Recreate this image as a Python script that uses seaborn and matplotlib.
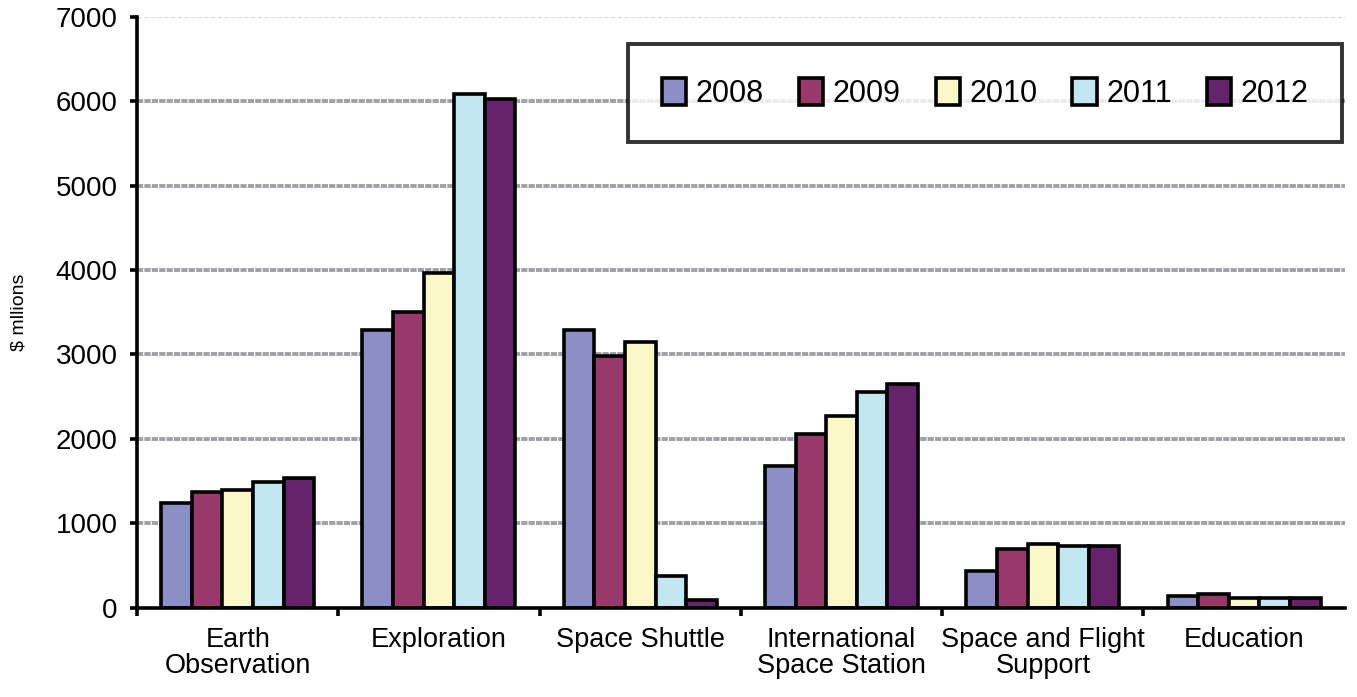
import pandas as pd
import matplotlib
matplotlib.use("Agg")
import matplotlib.pyplot as plt
from matplotlib.patches import Patch
import seaborn as sns

# Daten
categories = ["Earth\nObservation", "Exploration", "Space Shuttle",
              "International\nSpace Station", "Space and Flight\nSupport", "Education"]
years = ["2008", "2009", "2010", "2011", "2012"]
v2008 = [1237, 3290, 3290, 1680, 440, 140]
v2009 = [1370, 3500, 2980, 2060, 700, 165]
v2010 = [1400, 3970, 3150, 2270, 750, 110]
v2011 = [1490, 6080, 380, 2550, 730, 110]
v2012 = [1540, 6030, 95, 2650, 730, 110]
colors = ["#8B8FC5", "#99386B", "#FAF8C9", "#C2E7F0", "#66226A"]

rows = []
for yr, vals in zip(years, [v2008, v2009, v2010, v2011, v2012]):
    for c, v in zip(categories, vals):
        rows.append({"category": c, "year": yr, "value": v})
df = pd.DataFrame(rows)

sns.set_style("white")
plt.rcParams["font.family"] = ["Liberation Sans", "DejaVu Sans"]
for k in ["text.color", "axes.labelcolor", "xtick.color", "ytick.color"]:
    plt.rcParams[k] = "black"

fig = plt.figure(figsize=(13.57, 6.97), dpi=100)
ax = fig.add_axes([0.101, 0.128, 0.890, 0.848])

# Gitterlinien
for y in range(1000, 7000, 1000):
    ax.axhline(y, color="#A0A0A8", lw=2.8, ls=(0, (1.6, 0.3)), zorder=0)
ax.axhline(7000, color="#DADADA", lw=0.8, ls=(0, (4, 2)), zorder=0)

sns.barplot(data=df, x="category", y="value", hue="year", palette=colors,
            saturation=1, width=0.76, edgecolor="black", linewidth=2.6,
            ax=ax, zorder=2)

ax.set_xlim(-0.5, 5.5)
ax.set_ylim(0, 7000)
ax.set_yticks(range(0, 7001, 1000))
ax.set_xlabel("")
ax.set_ylabel("$ mllions", fontsize=14, labelpad=20)

for s in ["top", "right"]:
    ax.spines[s].set_visible(False)
for s in ["left", "bottom"]:
    ax.spines[s].set_linewidth(2.6)
    ax.spines[s].set_color("black")

ax.tick_params(axis="y", which="major", left=True, length=5, width=2.6,
               direction="out", labelsize=20, pad=9)
ax.tick_params(axis="x", which="major", length=0, labelsize=19.5, pad=14)
ax.set_xticks([i - 0.5 for i in range(6)], minor=True)
ax.tick_params(axis="x", which="minor", bottom=True, length=6, width=2.6,
               direction="out")
for lab in ax.get_xticklabels():
    lab.set_linespacing(1.0)

# Legende
ax.get_legend().remove()
handles = [Patch(facecolor=c, edgecolor="black", linewidth=2.6) for c in colors]
leg = ax.legend(handles, years, ncol=5, loc="upper right",
                bbox_to_anchor=(1342 / 1357, 1 - 44 / 697),
                bbox_transform=fig.transFigure, fontsize=22,
                frameon=True, fancybox=False, edgecolor="black",
                borderpad=1.1, handlelength=0.8, handleheight=1.0,
                handletextpad=0.3, columnspacing=1.15, borderaxespad=0)
leg.get_frame().set_linewidth(2.8)

fig.savefig("out.png", dpi=100)
